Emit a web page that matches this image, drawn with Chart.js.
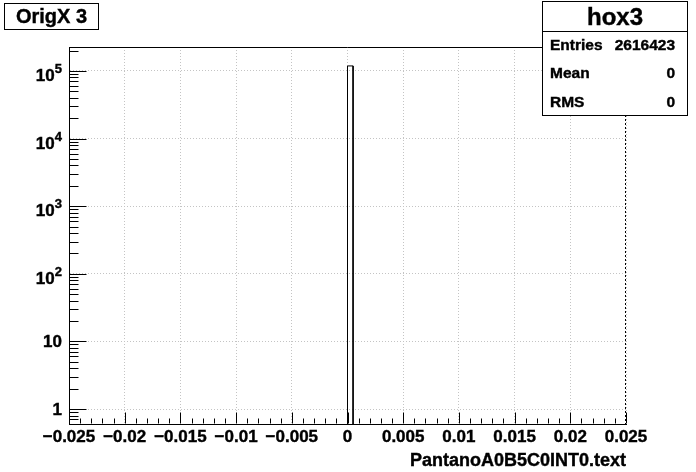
<!DOCTYPE html>
<html>
<head>
<meta charset="utf-8">
<script src="https://cdn.jsdelivr.net/npm/chart.js@4/dist/chart.umd.min.js"></script>
<style>
    html, body { margin: 0; padding: 0; background: #fff; }
    canvas { display: block; }
</style>
</head>
<body>
<canvas id="chart" width="696" height="472"></canvas>
<script>
// histogram hox3: only the bin [0, 0.0005) is filled
const binLow = [0];
const binHigh = [0.0005];
const binCounts = [118600];

const xRange = [-0.025, 0.025];
const yRange = [0.6, 226000];

const xTickValues = [-0.025, -0.02, -0.015, -0.01, -0.005, 0, 0.005, 0.01, 0.015, 0.02, 0.025];
const xTickLabels = ['\u22120.025', '\u22120.02', '\u22120.015', '\u22120.01', '\u22120.005', '0', '0.005', '0.01', '0.015', '0.02', '0.025'];
const yTickValues = [1, 10, 100, 1000, 10000, 100000];
const yTickLabels = ['1', '10', '10^2', '10^3', '10^4', '10^5'];

const statsTitle = 'hox3';
const statsRows = [['Entries', '2616423'], ['Mean', '0'], ['RMS', '0']];
const histTitle = 'OrigX 3';
const xAxisTitle = 'PantanoA0B5C0INT0.text';

const FONT = '"Liberation Sans", Arial, Helvetica, sans-serif';

// outline of each filled bin, dropped to the bottom of the log axis
const outline = [];
binCounts.forEach((count, i) => {
    outline.push({ x: binLow[i], y: yRange[0] });
    outline.push({ x: binLow[i], y: count });
    outline.push({ x: binHigh[i], y: count });
    outline.push({ x: binHigh[i], y: yRange[0] });
});

const line = (ctx, x1, y1, x2, y2) => {
    ctx.beginPath();
    ctx.moveTo(x1, y1);
    ctx.lineTo(x2, y2);
    ctx.stroke();
};

// ROOT's bold Helvetica comes out a little heavier than plain canvas text
const text = (ctx, str, x, y) => {
    ctx.fillText(str, x, y);
    ctx.strokeText(str, x, y);
};

const rootFrame = {
    id: 'rootFrame',
    afterDraw(chart) {
        const { ctx, chartArea: area, scales: { x, y } } = chart;

        ctx.save();
        ctx.strokeStyle = '#000';
        ctx.lineWidth = 1;

        // frame top and the dotted right edge
        line(ctx, area.left, Math.round(area.top) + 0.5, area.right, Math.round(area.top) + 0.5);
        ctx.setLineDash([2, 2]);
        line(ctx, Math.round(area.right) - 0.5, area.top, Math.round(area.right) - 0.5, area.bottom);
        ctx.setLineDash([]);

        // x ticks, pointing into the frame
        const xb = Math.round(area.bottom) - 0.5;
        xTickValues.forEach((value, i) => {
            const px = Math.round(x.getPixelForValue(value)) + 0.5;
            line(ctx, px, xb, px, xb - 11);
            const next = xTickValues[i + 1];
            if (next === undefined) return;
            for (let k = 1; k < 5; k++) {
                const mx = Math.round(x.getPixelForValue(value + (next - value) * k / 5)) + 0.5;
                line(ctx, mx, xb, mx, xb - 5);
            }
        });

        // y ticks, log scale
        const yl = Math.round(area.left) + 0.5;
        for (let d = -1; d <= 5; d++) {
            for (let k = 1; k <= 9; k++) {
                const value = k * Math.pow(10, d);
                if (value < yRange[0] || value > yRange[1]) continue;
                const py = Math.round(y.getPixelForValue(value)) + 0.5;
                line(ctx, yl, py, yl + (k === 1 ? 17 : 9), py);
            }
        }

        // tick labels
        ctx.fillStyle = '#000';
        ctx.lineWidth = 0.4;
        ctx.font = `bold 17px ${FONT}`;
        ctx.textAlign = 'center';
        ctx.textBaseline = 'alphabetic';
        xTickValues.forEach((value, i) => {
            text(ctx, xTickLabels[i], x.getPixelForValue(value), 442);
        });

        const labelRight = 62;
        yTickValues.forEach((value, i) => {
            const py = y.getPixelForValue(value);
            const [base, exp] = yTickLabels[i].split('^');
            ctx.textAlign = 'right';
            if (exp === undefined) {
                ctx.font = `bold 17px ${FONT}`;
                text(ctx, base, labelRight, py + 6);
                return;
            }
            ctx.font = `bold 13px ${FONT}`;
            const expWidth = ctx.measureText(exp).width;
            text(ctx, exp, labelRight, py + 2);
            ctx.font = `bold 17px ${FONT}`;
            text(ctx, base, labelRight - expWidth, py + 10);
        });

        // axis title
        ctx.font = `bold 18px ${FONT}`;
        ctx.textAlign = 'right';
        text(ctx, xAxisTitle, 626, 466);

        // title box
        ctx.lineWidth = 1;
        ctx.fillStyle = '#fff';
        ctx.fillRect(4.5, 3.5, 94, 26);
        ctx.strokeRect(4.5, 3.5, 94, 26);
        ctx.fillStyle = '#000';
        ctx.lineWidth = 0.4;
        ctx.font = `bold 20px ${FONT}`;
        ctx.textAlign = 'center';
        text(ctx, histTitle, 51.5, 23);

        // stats box
        const sx = 542.5, sw = 145, sy = 1.5, sh = 114;
        ctx.lineWidth = 1;
        ctx.fillStyle = '#fff';
        ctx.fillRect(sx, sy, sw, sh);
        ctx.strokeRect(sx, sy, sw, sh);
        line(ctx, sx, 31.5, sx + sw, 31.5);
        ctx.fillStyle = '#000';
        ctx.lineWidth = 0.4;
        ctx.font = `bold 24px ${FONT}`;
        ctx.textAlign = 'center';
        text(ctx, statsTitle, sx + sw / 2, 25);
        ctx.font = `bold 15.5px ${FONT}`;
        statsRows.forEach(([name, value], i) => {
            const by = 49.5 + i * 28.5;
            ctx.textAlign = 'left';
            text(ctx, name, 550, by);
            ctx.textAlign = 'right';
            text(ctx, value, 675, by);
        });

        ctx.restore();
    },
};

new Chart(document.getElementById('chart'), {
    type: 'line',
    data: {
        datasets: [{
            label: statsTitle,
            data: outline,
            borderColor: '#000',
            borderWidth: 1,
            pointRadius: 0,
            fill: false,
            tension: 0,
        }],
    },
    options: {
        responsive: false,
        animation: false,
        events: [],
        layout: {
            padding: { left: 69, right: 70, top: 47, bottom: 48 },
        },
        scales: {
            x: {
                type: 'linear',
                min: xRange[0],
                max: xRange[1],
                afterBuildTicks: (scale) => {
                    scale.ticks = xTickValues.map((value) => ({ value }));
                },
                ticks: { display: false },
                grid: { color: '#c4c4c4', drawTicks: false },
                border: { color: '#000', width: 1, dash: [1, 2] },
            },
            y: {
                type: 'logarithmic',
                min: yRange[0],
                max: yRange[1],
                afterBuildTicks: (scale) => {
                    scale.ticks = yTickValues.map((value) => ({ value }));
                },
                ticks: { display: false },
                grid: { color: '#c4c4c4', drawTicks: false },
                border: { color: '#000', width: 1, dash: [1, 2] },
            },
        },
        plugins: {
            legend: { display: false },
            tooltip: { enabled: false },
        },
    },
    plugins: [rootFrame],
});
</script>
</body>
</html>
